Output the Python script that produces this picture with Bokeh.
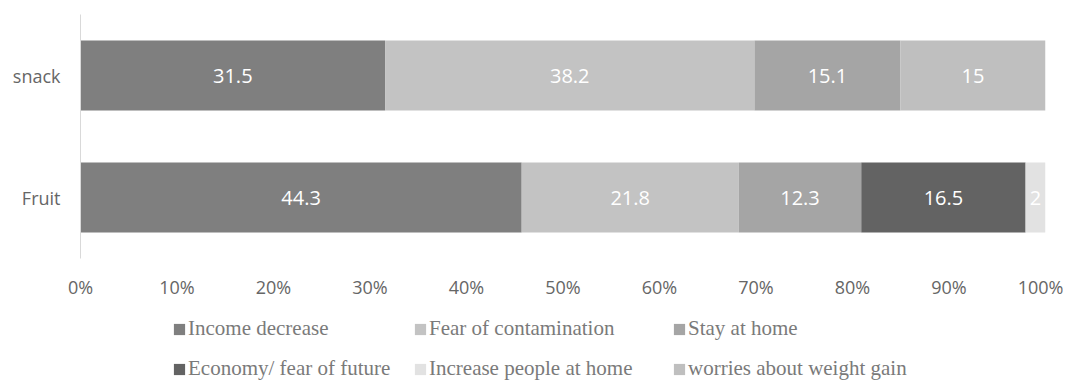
from bokeh.plotting import figure
from bokeh.layouts import column
from bokeh.models import (ColumnDataSource, FactorRange, Range1d, FixedTicker,
                          PrintfTickFormatter, LabelSet, Legend, LegendItem)
from bokeh.core.properties import value
from bokeh.embed import file_html
from bokeh.resources import INLINE

# ---------------- data ----------------
categories = ["snack", "Fruit"]
series_names = ["Income decrease", "Fear of contamination", "Stay at home",
                "Economy/ fear of future", "Increase people at home",
                "worries about weight gain"]
income_decrease = [31.5, 44.3]
fear_of_contamination = [38.2, 21.8]
stay_at_home = [15.1, 12.3]
economy_fear_of_future = [0, 16.5]
increase_people_at_home = [0, 2]
worries_about_weight_gain = [15, 0]
x_ticks = [0, 10, 20, 30, 40, 50, 60, 70, 80, 90, 100]

colors = ["#7f7f7f", "#c3c3c3", "#a5a5a5", "#636363", "#e2e2e2", "#bfbfbf"]

series = [income_decrease, fear_of_contamination, stay_at_home,
          economy_fear_of_future, increase_people_at_home, worries_about_weight_gain]
keys = ["s%d" % i for i in range(len(series))]

totals = [sum(s[i] for s in series) for i in range(len(categories))]
data = {"cat": categories}
for k, s in zip(keys, series):
    data[k] = [s[i] / totals[i] * 100 for i in range(len(categories))]
source = ColumnDataSource(data)

# label positions
lx, ly, lt = [], [], []
for i, c in enumerate(categories):
    start = 0.0
    for k, s in zip(keys, series):
        w = data[k][i]
        if s[i] > 0:
            lx.append(start + w / 2)
            ly.append(c)
            lt.append(f"{s[i]:g}")
        start += w
label_source = ColumnDataSource(dict(x=lx, y=ly, t=lt))

# ---------------- main chart ----------------
p = figure(y_range=FactorRange(factors=["Fruit", "snack"]),
           x_range=Range1d(0, 100),
           frame_width=965, frame_height=244,
           min_border_left=80, min_border_right=18,
           min_border_top=14, min_border_bottom=45,
           output_backend="svg", toolbar_location=None)
p.outline_line_color = None
p.xgrid.visible = False
p.ygrid.visible = False

renderers = p.hbar_stack(keys, y="cat", height=70 / 122, color=colors,
                         line_color=None, source=source)

labels = LabelSet(x="x", y="y", text="t", source=label_source,
                  text_align="center", text_baseline="middle",
                  text_color="white", text_font=value("Open Sans"),
                  text_font_size="20px")
p.add_layout(labels)

p.xaxis.ticker = FixedTicker(ticks=x_ticks)
p.xaxis.formatter = PrintfTickFormatter(format="%d%%")
p.xaxis.axis_line_color = None
p.xaxis.major_tick_line_color = None
p.xaxis.minor_tick_line_color = None
p.xaxis.major_tick_out = 0
p.xaxis.major_label_standoff = 16
p.xaxis.major_label_text_font = "Open Sans"
p.xaxis.major_label_text_font_size = "18px"
p.xaxis.major_label_text_color = "#666666"

p.yaxis.axis_line_color = "#d9d9d9"
p.yaxis.axis_line_width = 1
p.yaxis.major_tick_line_color = None
p.yaxis.minor_tick_line_color = None
p.yaxis.major_tick_out = 0
p.yaxis.major_label_standoff = 20
p.yaxis.major_label_text_font = "Open Sans"
p.yaxis.major_label_text_font_size = "18px"
p.yaxis.major_label_text_color = "#666666"

# ---------------- legend strip ----------------
lg = figure(x_range=Range1d(0, 1), y_range=Range1d(0, 1),
            frame_width=1063, frame_height=78,
            min_border_left=0, min_border_right=0,
            min_border_top=0, min_border_bottom=0,
            output_backend="svg", toolbar_location=None)
lg.axis.visible = False
lg.grid.visible = False
lg.outline_line_color = None
# swatch renderers kept outside the visible range (only used by the legend)
swatches = [lg.hbar(y=[5], left=[5], right=[6], height=1, color=c, line_color=None)
            for c in colors]

col_x = [172, 413, 672]
columns = [[0, 3], [1, 4], [2, 5]]
for cx, idxs in zip(col_x, columns):
    items = [LegendItem(label=series_names[j], renderers=[swatches[j]]) for j in idxs]
    leg = Legend(items=items, location=(cx, 0), orientation="vertical",
                 glyph_width=14, glyph_height=14, label_standoff=2,
                 label_text_font="Liberation Serif", label_text_font_size="21px",
                 label_text_color="#7a7a7a", label_height=24, spacing=15,
                 padding=0, margin=0, border_line_color=None,
                 background_fill_alpha=0)
    lg.add_layout(leg, "center")

layout = column(p, lg, spacing=0)
open("out.html", "w").write(file_html(layout, INLINE))
